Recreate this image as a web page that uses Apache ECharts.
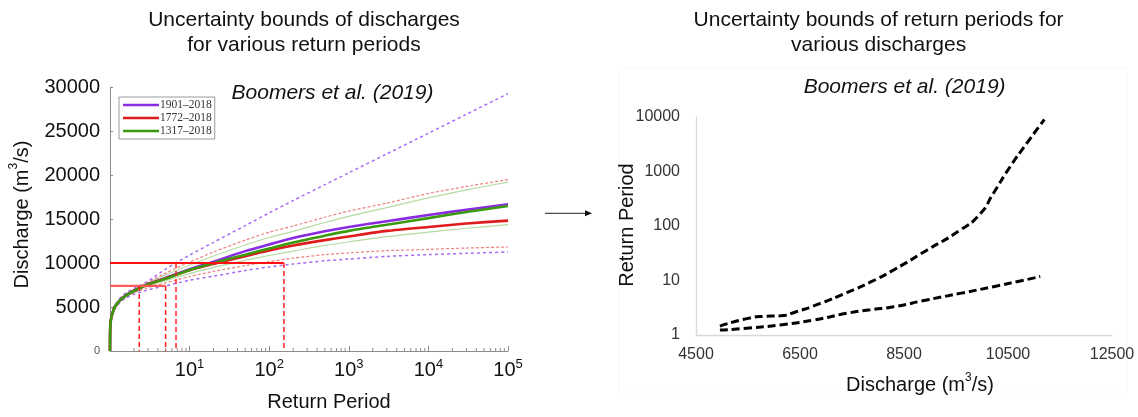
<!DOCTYPE html>
<html><head><meta charset="utf-8">
<script src="https://cdn.jsdelivr.net/npm/echarts@6/dist/echarts.min.js"></script>
<style>html,body{margin:0;padding:0;background:#fff;}#c{width:1138px;height:417px;}</style>
</head><body><div id="c"></div>
<script>
// ---------- Left chart: discharge vs return period ----------
const returnPeriods = [1, 1.005, 1.02, 1.07, 1.15, 1.33, 1.6, 2, 3, 5, 10, 20, 50, 100, 200, 500, 1000, 3000, 10000, 30000, 100000];
const q1901 = [0, 2400, 3400, 4250, 5000, 5750, 6350, 6850, 7600, 8300, 9300, 10150, 11350, 12100, 12830, 13600, 14100, 14750, 15450, 16050, 16670];
const q1772 = [0, 2400, 3400, 4250, 5000, 5750, 6340, 6830, 7580, 8260, 9180, 9900, 10780, 11420, 11980, 12600, 13020, 13650, 14100, 14480, 14820];
const q1317 = [0, 2400, 3400, 4250, 5000, 5750, 6330, 6820, 7550, 8220, 9200, 10000, 10950, 11650, 12330, 13100, 13650, 14350, 15100, 15800, 16480];
const q1901Upper = [0, 2450, 3480, 4380, 5180, 5980, 6620, 7100, 7950, 9300, 10900, 12350, 14250, 15700, 17100, 18900, 20250, 22400, 24750, 26900, 29250];
const q1901Lower = [0, 2350, 3300, 4100, 4850, 5500, 6050, 6450, 6950, 7400, 8050, 8500, 9150, 9550, 9880, 10250, 10450, 10750, 10950, 11100, 11250];
const q1772Upper = [0, 2420, 3450, 4330, 5120, 5900, 6500, 7000, 7820, 8850, 10100, 11250, 12600, 13500, 14200, 15200, 15900, 16800, 17900, 18700, 19480];
const q1772Lower = [0, 2370, 3350, 4170, 4900, 5600, 6180, 6620, 7200, 7750, 8450, 9050, 9700, 10150, 10550, 10950, 11150, 11400, 11550, 11700, 11820];
const q1317Upper = [0, 2410, 3430, 4300, 5080, 5850, 6450, 6950, 7720, 8650, 9750, 10800, 12050, 12900, 13600, 14600, 15300, 16300, 17400, 18300, 19200];
const q1317Lower = [0, 2380, 3370, 4200, 4950, 5650, 6250, 6720, 7380, 8000, 8800, 9500, 10300, 10850, 11350, 12000, 12400, 13000, 13500, 13950, 14360];
const legendNames = ['1901–2018', '1772–2018', '1317–2018'];
// reference discharges and the return periods where they cross the bounds
const refQ = [7400, 10000];
const refTUpper = [2.33, 6.75];
const refTLower = [5, 153];
const minorTicks = [2,3,4,5,6,7,8,9,20,30,40,50,60,70,80,90,200,300,400,500,600,700,800,900,
  2000,3000,4000,5000,6000,7000,8000,9000,20000,30000,40000,50000,60000,70000,80000,90000];

// ---------- Right chart: return period vs discharge ----------
const upperQ = [4960, 5480, 5800, 6120, 6440, 6890, 7400, 7850, 8300, 8940, 9580, 9960, 10220, 10540, 10860, 11200];
const upperT = [1.46, 2.0, 2.2, 2.25, 2.7, 3.8, 6.0, 9.3, 15.6, 36, 84, 165, 400, 1220, 3290, 9000];
const lowerQ = [4960, 5480, 6120, 6760, 7400, 7850, 8300, 8940, 9580, 10220, 10670, 11120];
const lowerT = [1.23, 1.33, 1.53, 1.88, 2.5, 2.9, 3.3, 4.4, 5.8, 7.7, 9.5, 11.8];
const rightXTicks = [4500, 6500, 8500, 10500, 12500];

const SANS = '"Liberation Sans", Arial, sans-serif';
const pairs = (xs, ys) => xs.map((x, i) => [x, ys[i]]);

function lineSeries(name, ys, style, z) {
  return {
    type: 'line', name: name, xAxisIndex: 0, yAxisIndex: 0,
    data: pairs(returnPeriods, ys), showSymbol: false, symbol: 'none',
    smooth: 0.25, lineStyle: style, itemStyle: {color: style.color}, z: z, silent: true, animation: false
  };
}
function refLine(data, style) {
  return { type: 'line', xAxisIndex: 0, yAxisIndex: 0, data: data, showSymbol: false, symbol: 'none',
    lineStyle: style, itemStyle: {color: style.color}, z: 10, silent: true, animation: false };
}

const purple = '#8a2be2', red = '#e01b1b', green = '#3a9a0c';
const series = [
  lineSeries('g_up', q1317Upper, {color: 'rgba(90,175,50,0.45)', width: 1.2}, 2),
  lineSeries('g_lo', q1317Lower, {color: 'rgba(90,175,50,0.45)', width: 1.2}, 2),
  lineSeries('r_up', q1772Upper, {color: 'rgba(225,45,45,0.6)', width: 1.2, type: [3, 2]}, 2),
  lineSeries('r_lo', q1772Lower, {color: 'rgba(225,45,45,0.6)', width: 1.2, type: [3, 2]}, 2),
  lineSeries('p_up', q1901Upper, {color: '#a56cf2', width: 1.5, type: [3, 3]}, 2),
  lineSeries('p_lo', q1901Lower, {color: '#a56cf2', width: 1.5, type: [3, 3]}, 2),
  lineSeries(legendNames[0], q1901, {color: purple, width: 2.6}, 3),
  lineSeries(legendNames[1], q1772, {color: red, width: 2.6}, 3),
  lineSeries(legendNames[2], q1317, {color: green, width: 2.6}, 4),
  {
    type: 'custom', xAxisIndex: 0, yAxisIndex: 0, silent: true, z: 6, animation: false,
    data: minorTicks.map(t => [t, 0]),
    renderItem: (params, api) => {
      const p = api.coord([api.value(0), api.value(1)]);
      return { type: 'line', shape: {x1: p[0], y1: p[1], x2: p[0], y2: p[1] - 3},
        style: {stroke: '#8c8c8c', lineWidth: 1} };
    }
  },
  refLine([[1, refQ[0]], [refTLower[0], refQ[0]]], {color: '#ff5a5a', width: 2.4}),
  refLine([[1, refQ[1]], [refTLower[1], refQ[1]]], {color: '#ff1010', width: 1.8}),
  refLine([[refTUpper[0], refQ[0]], [refTUpper[0], 0]], {color: '#ff2020', width: 1.5, type: [5, 3]}),
  refLine([[refTLower[0], refQ[0]], [refTLower[0], 0]], {color: '#ff2020', width: 1.5, type: [5, 3]}),
  refLine([[refTUpper[1], refQ[1]], [refTUpper[1], 0]], {color: '#ff2020', width: 1.5, type: [5, 3]}),
  refLine([[refTLower[1], refQ[1]], [refTLower[1], 0]], {color: '#ff2020', width: 1.5, type: [5, 3]}),
  // right chart
  { type: 'line', xAxisIndex: 1, yAxisIndex: 1, data: pairs(upperQ, upperT), showSymbol: false, symbol: 'none',
    smooth: 0.6, lineStyle: {color: '#000', width: 3, type: [8, 4]}, silent: true, animation: false },
  { type: 'line', xAxisIndex: 1, yAxisIndex: 1, data: pairs(lowerQ, lowerT), showSymbol: false, symbol: 'none',
    smooth: 0.6, lineStyle: {color: '#000', width: 3, type: [8, 4]}, silent: true, animation: false }
];

function txt(x, y, text, font, extra) {
  return { type: 'text', x: x, y: y, silent: true, z: 100,
    style: Object.assign({ text: text, font: font, fill: '#111', align: 'center', verticalAlign: 'middle',
      textAlign: 'center', textVerticalAlign: 'middle' }, extra || {}) };
}
const supRich = { a: {fontSize: 20, fontFamily: SANS, lineHeight: 24, verticalAlign: 'bottom', fill: '#111', color: '#111'},
                  s: {fontSize: 12, fontFamily: SANS, verticalAlign: 'top', fill: '#111', color: '#111'} };

const chart = echarts.init(document.getElementById('c'), null, {renderer: 'canvas'});
chart.setOption({
  backgroundColor: '#fff',
  animation: false,
  textStyle: {fontFamily: SANS},
  legend: {
    data: legendNames, orient: 'vertical', left: 119, top: 97, icon: 'rect',
    itemWidth: 36, itemHeight: 2.5, itemGap: 1, padding: [2, 3, 2, 4],
    borderColor: '#9a9a9a', borderWidth: 1, backgroundColor: '#fff', selectedMode: false,
    textStyle: {fontFamily: '"Liberation Serif", "Times New Roman", serif', fontSize: 11.5, color: '#333', lineHeight: 12, padding: [0, 0, 0, -4]}
  },
  grid: [
    {left: 110, top: 87, width: 398, height: 264, outerBoundsMode: 'none', containLabel: false},
    {left: 696, top: 117, width: 416, height: 218, outerBoundsMode: 'none', containLabel: false}
  ],
  xAxis: [
    { type: 'log', logBase: 10, gridIndex: 0, min: 1, max: 100000,
      axisLine: {show: true, lineStyle: {color: '#8c8c8c', width: 1}},
      axisTick: {show: true, inside: true, length: 5, lineStyle: {color: '#8c8c8c'}},
      splitLine: {show: false}, minorTick: {show: false},
      axisLabel: { margin: 7, fontSize: 20, color: '#111', fontFamily: SANS, lineHeight: 24,
        formatter: v => v <= 1.0001 ? '' : '10{s|' + Math.round(Math.log10(v)) + '}',
        rich: {s: {fontSize: 13, verticalAlign: 'top', color: '#111', fontFamily: SANS}} } },
    { type: 'value', gridIndex: 1, min: 4500, max: 12500, interval: 500,
      axisLine: {show: true, lineStyle: {color: '#d9d9d9', width: 1.3}},
      axisTick: {show: false}, splitLine: {show: false},
      axisLabel: { margin: 12, fontSize: 16, color: '#333', fontFamily: SANS, showMinLabel: true, showMaxLabel: true,
        formatter: v => rightXTicks.indexOf(Math.round(v)) >= 0 ? String(Math.round(v)) : '' } }
  ],
  yAxis: [
    { type: 'value', gridIndex: 0, min: 0, max: 30000, interval: 5000,
      axisLine: {show: true, lineStyle: {color: '#8c8c8c', width: 1}},
      axisTick: {show: true, inside: true, length: 3, lineStyle: {color: '#8c8c8c'}},
      splitLine: {show: false},
      axisLabel: { margin: 10, fontSize: 20, color: '#111', fontFamily: SANS,
        formatter: v => v === 0 ? '{z|0}' : String(v),
        rich: {z: {fontSize: 11, color: '#555', fontFamily: SANS}} } },
    { type: 'log', logBase: 10, gridIndex: 1, min: 1, max: 10000,
      axisLine: {show: true, lineStyle: {color: '#d9d9d9', width: 1.3}},
      axisTick: {show: false}, splitLine: {show: false}, minorTick: {show: false},
      axisLabel: { margin: 16, fontSize: 16, color: '#333', fontFamily: SANS,
        formatter: v => String(Math.round(v)) } }
  ],
  series: series,
  graphic: [
    {type: 'rect', shape: {x: 619, y: 68, width: 508, height: 324}, style: {fill: 'none', stroke: '#f7f7f7', lineWidth: 1}, silent: true, z: 0},
    txt(304, 32.5, 'Uncertainty bounds of discharges\nfor various return periods', '21px ' + SANS, {lineHeight: 25}),
    txt(878.6, 32.5, 'Uncertainty bounds of return periods for\nvarious discharges', '21px ' + SANS, {lineHeight: 25}),
    txt(332.5, 93, 'Boomers et al. (2019)', 'italic 21px ' + SANS),
    txt(904.6, 86.7, 'Boomers et al. (2019)', 'italic 21px ' + SANS),
    txt(329, 402.5, 'Return Period', '20px ' + SANS),
    Object.assign(txt(627.5, 225, 'Return Period', '20px ' + SANS), {rotation: Math.PI / 2}),
    Object.assign(txt(20, 214.5, '{a|Discharge (m}{s|3}{a|/s)}', '20px ' + SANS, {rich: supRich}), {rotation: Math.PI / 2}),
    txt(920, 383.5, '{a|Discharge (m}{s|3}{a|/s)}', '20px ' + SANS, {rich: supRich}),
    {type: 'line', shape: {x1: 545, y1: 213.3, x2: 586, y2: 213.3}, style: {stroke: '#222', lineWidth: 1}, silent: true},
    {type: 'polygon', shape: {points: [[585, 210.3], [592, 213.3], [585, 216.3]]}, style: {fill: '#111'}, silent: true}
  ]
});
</script>
</body></html>
